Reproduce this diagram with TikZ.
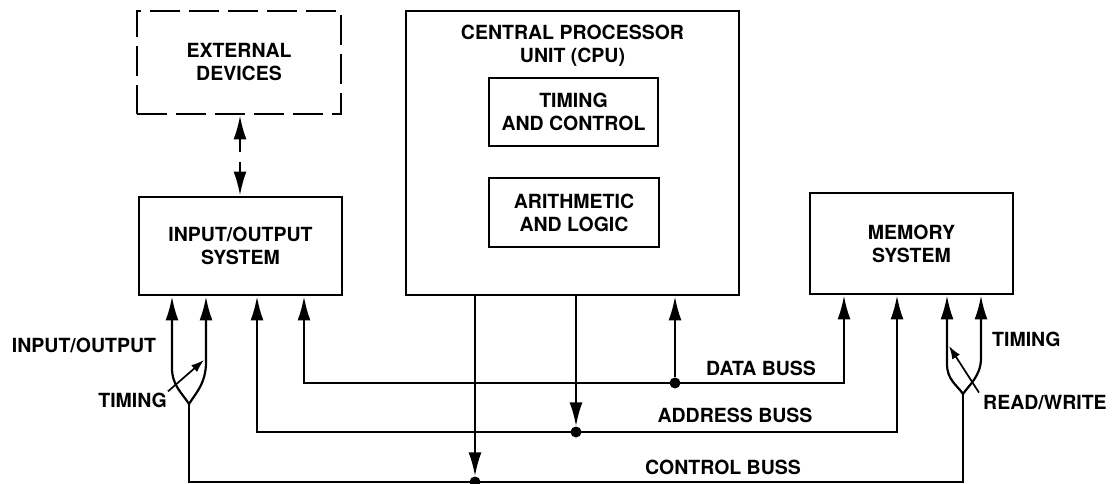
\documentclass[tikz,border=0pt]{standalone}
\usepackage{fontspec}
\setmainfont{TeX Gyre Heros}
\usetikzlibrary{arrows.meta}

\tikzset{
  lab/.style={font=\fontsize{19.5}{23}\selectfont\bfseries, inner sep=0pt, align=center},
  box/.style={lab, draw, line width=2.9pt},
  bus/.style={line width=2.2pt},
  tip/.style={-{Latex[length=24pt,width=13pt]}},
  tips/.style={{Latex[length=24pt,width=13pt]}-{Latex[length=24pt,width=13pt]}},
  pointer/.style={line width=1.7pt, -{Latex[length=13pt,width=9pt]}},
  junction/.style={circle, fill, inner sep=0pt, minimum size=11pt},
}

\begin{document}
\begin{tikzpicture}[x=1pt, y=-1pt]
  \useasboundingbox (0,0) rectangle (1116,484);

  % blocks
  \node[box, dash pattern=on 30pt off 9pt, minimum width=204pt, minimum height=103pt]
    (ext) at (239,62.5) {EXTERNAL\\DEVICES};
  \node[box, minimum width=203pt, minimum height=98pt]
    (io) at (240.5,246) {INPUT/OUTPUT\\SYSTEM};
  \node[box, minimum width=333pt, minimum height=284pt]
    (cpu) at (572.5,153) {};
  \node[lab, anchor=north] (cputitle) at (572.5,25.3) {CENTRAL PROCESSOR\\UNIT (CPU)};
  \node[box, minimum width=169pt, minimum height=68pt]
    (tc) at (573.5,112) {TIMING\\AND CONTROL};
  \node[box, minimum width=170pt, minimum height=69pt]
    (al) at (574,212.5) {ARITHMETIC\\AND LOGIC};
  \node[box, minimum width=203pt, minimum height=101pt]
    (mem) at (911.5,243.5) {MEMORY\\SYSTEM};

  % external devices <-> I/O
  \coordinate (e1) at (240,152);
  \coordinate (e2) at (240,162);
  \draw[bus, tip] (e1) -- (ext.south -| e1);
  \draw[bus, tip] (e2) -- (io.north -| e2);

  % bus corners and junctions
  \coordinate (d0) at (304,383);
  \coordinate (d1) at (844,383);
  \coordinate (a0) at (257,432);
  \coordinate (a1) at (897,432);
  \coordinate (c0) at (189,482);
  \coordinate (c1) at (963,482);
  \node[junction] (ddot) at (675,383) {};
  \node[junction] (adot) at (576,432) {};
  \node[junction] (cdot) at (475,482) {};

  % data buss
  \draw[bus, tips] (d0 |- io.south) -- (d0) -- (d1) -- (d1 |- mem.south);
  \draw[bus, tip] (ddot) -- (ddot |- cpu.south);
  % address buss
  \draw[bus, tips] (a0 |- io.south) -- (a0) -- (a1) -- (a1 |- mem.south);
  \draw[bus, tip] (adot |- cpu.south) -- (adot.north);
  % control buss
  \coordinate (fl) at (189,404);
  \coordinate (fr) at (963,394);
  \draw[bus] (fl) -- (c0) -- (c1) -- (fr);
  \draw[bus, tip] (cdot |- cpu.south) -- (cdot.north);

  % control branches at the I/O system
  \coordinate (il) at (172,368);
  \coordinate (ir) at (206,362);
  \draw[bus, tip] (fl) .. controls (183,394) and (172,386) .. (il) -- (il |- io.south);
  \draw[bus, tip] (fl) .. controls (195,394) and (206,384) .. (ir) -- (ir |- io.south);

  % control branches at the memory system
  \coordinate (ml) at (947,364);
  \coordinate (mr) at (981,358);
  \draw[bus, tip] (fr) .. controls (957,385) and (947,380) .. (ml) -- (ml |- mem.south);
  \draw[bus, tip] (fr) .. controls (969,385) and (981,376) .. (mr) -- (mr |- mem.south);

  % signal labels
  \node[lab, anchor=base] (lio) at (84,352) {INPUT/OUTPUT};
  \node[lab, anchor=base east] (ltim) at (167,407) {TIMING};
  \node[lab, anchor=base west] (rtim) at (992,346) {TIMING};
  \node[lab, anchor=base west] (rrw) at (983,409) {READ/WRITE};
  \coordinate (ltimtip) at (204,360);
  \coordinate (rrwtip) at (949,346);
  \draw[pointer] (ltim.north east) ++(1,-1) coordinate (ltimtail) -- (ltimtip);
  \draw[pointer] (rrw.north west) ++(-4,-2) coordinate (rrwtail) -- (rrwtip);

  % buss names
  \node[lab, anchor=base] (ldata) at (761,375) {DATA BUSS};
  \node[lab, anchor=base] (laddr) at (735,422) {ADDRESS BUSS};
  \node[lab, anchor=base] (lctrl) at (723,474) {CONTROL BUSS};
\end{tikzpicture}
\end{document}
